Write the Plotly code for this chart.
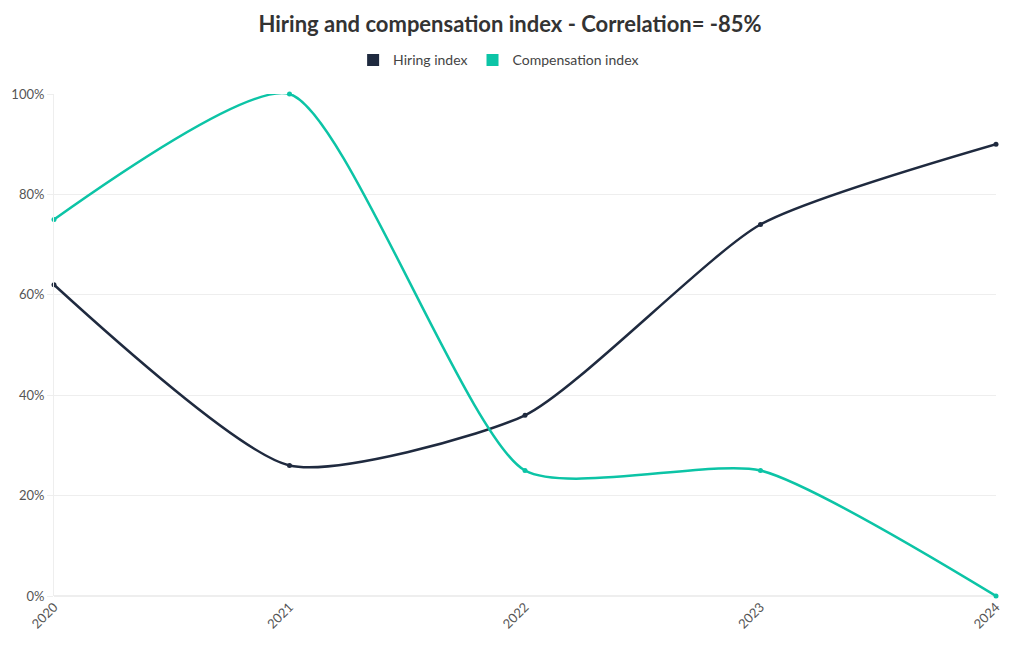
import plotly.graph_objects as go

years = [2020, 2021, 2022, 2023, 2024]
year_labels = ["2020", "2021", "2022", "2023", "2024"]
hiring = [62, 26, 36, 74, 90]
compensation = [75, 100, 25, 25, 0]
y_ticks = [0, 20, 40, 60, 80, 100]
y_tick_labels = ["0%", "20%", "40%", "60%", "80%", "100%"]

c_hire = "#1f2a3f"
c_comp = "#0cc4a6"
font_family = "Source Sans Pro, Lato, Noto Sans, sans-serif"

fig = go.Figure()
for name, vals, col in [("Hiring index", hiring, c_hire), ("Compensation index", compensation, c_comp)]:
    fig.add_trace(go.Scatter(
        x=years, y=vals, mode="lines+markers", name=name,
        line=dict(color=col, width=2.5, shape="spline", smoothing=0.6),
        marker=dict(color=col, size=5), cliponaxis=False, showlegend=False,
    ))
    fig.add_trace(go.Scatter(
        x=[None], y=[None], mode="markers", name=name,
        marker=dict(color=col, size=12, symbol="square"), showlegend=True,
    ))

fig.update_layout(
    width=1020, height=650,
    margin=dict(l=54, r=24, t=94, b=54),
    paper_bgcolor="white", plot_bgcolor="white",
    font=dict(family=font_family, color="#444", size=13),
    title=dict(text="<b>Hiring and compensation index - Correlation= -85%</b>",
               x=0.5, xanchor="center", y=0.962, yanchor="middle",
               font=dict(size=22, color="#333")),
    legend=dict(orientation="h", x=0.472, xanchor="center", y=1.067, yanchor="middle",
                font=dict(size=14, color="#444"), itemwidth=30, tracegroupgap=0),
    xaxis=dict(range=[2020, 2024], tickvals=years, ticktext=year_labels, tickangle=-45,
               showgrid=False, showline=False, zeroline=False,
               tickfont=dict(size=13, color="#555")),
    yaxis=dict(range=[0, 100], tickvals=y_ticks, ticktext=y_tick_labels,
               showgrid=True, gridcolor="#eeeeee", showline=True, linecolor="#eeeeee",
               zeroline=True, zerolinecolor="#eeeeee", ticks="outside", ticklen=6,
               tickcolor="#eeeeee", tickfont=dict(size=13, color="#555")),
)

fig.write_html("out.html")
